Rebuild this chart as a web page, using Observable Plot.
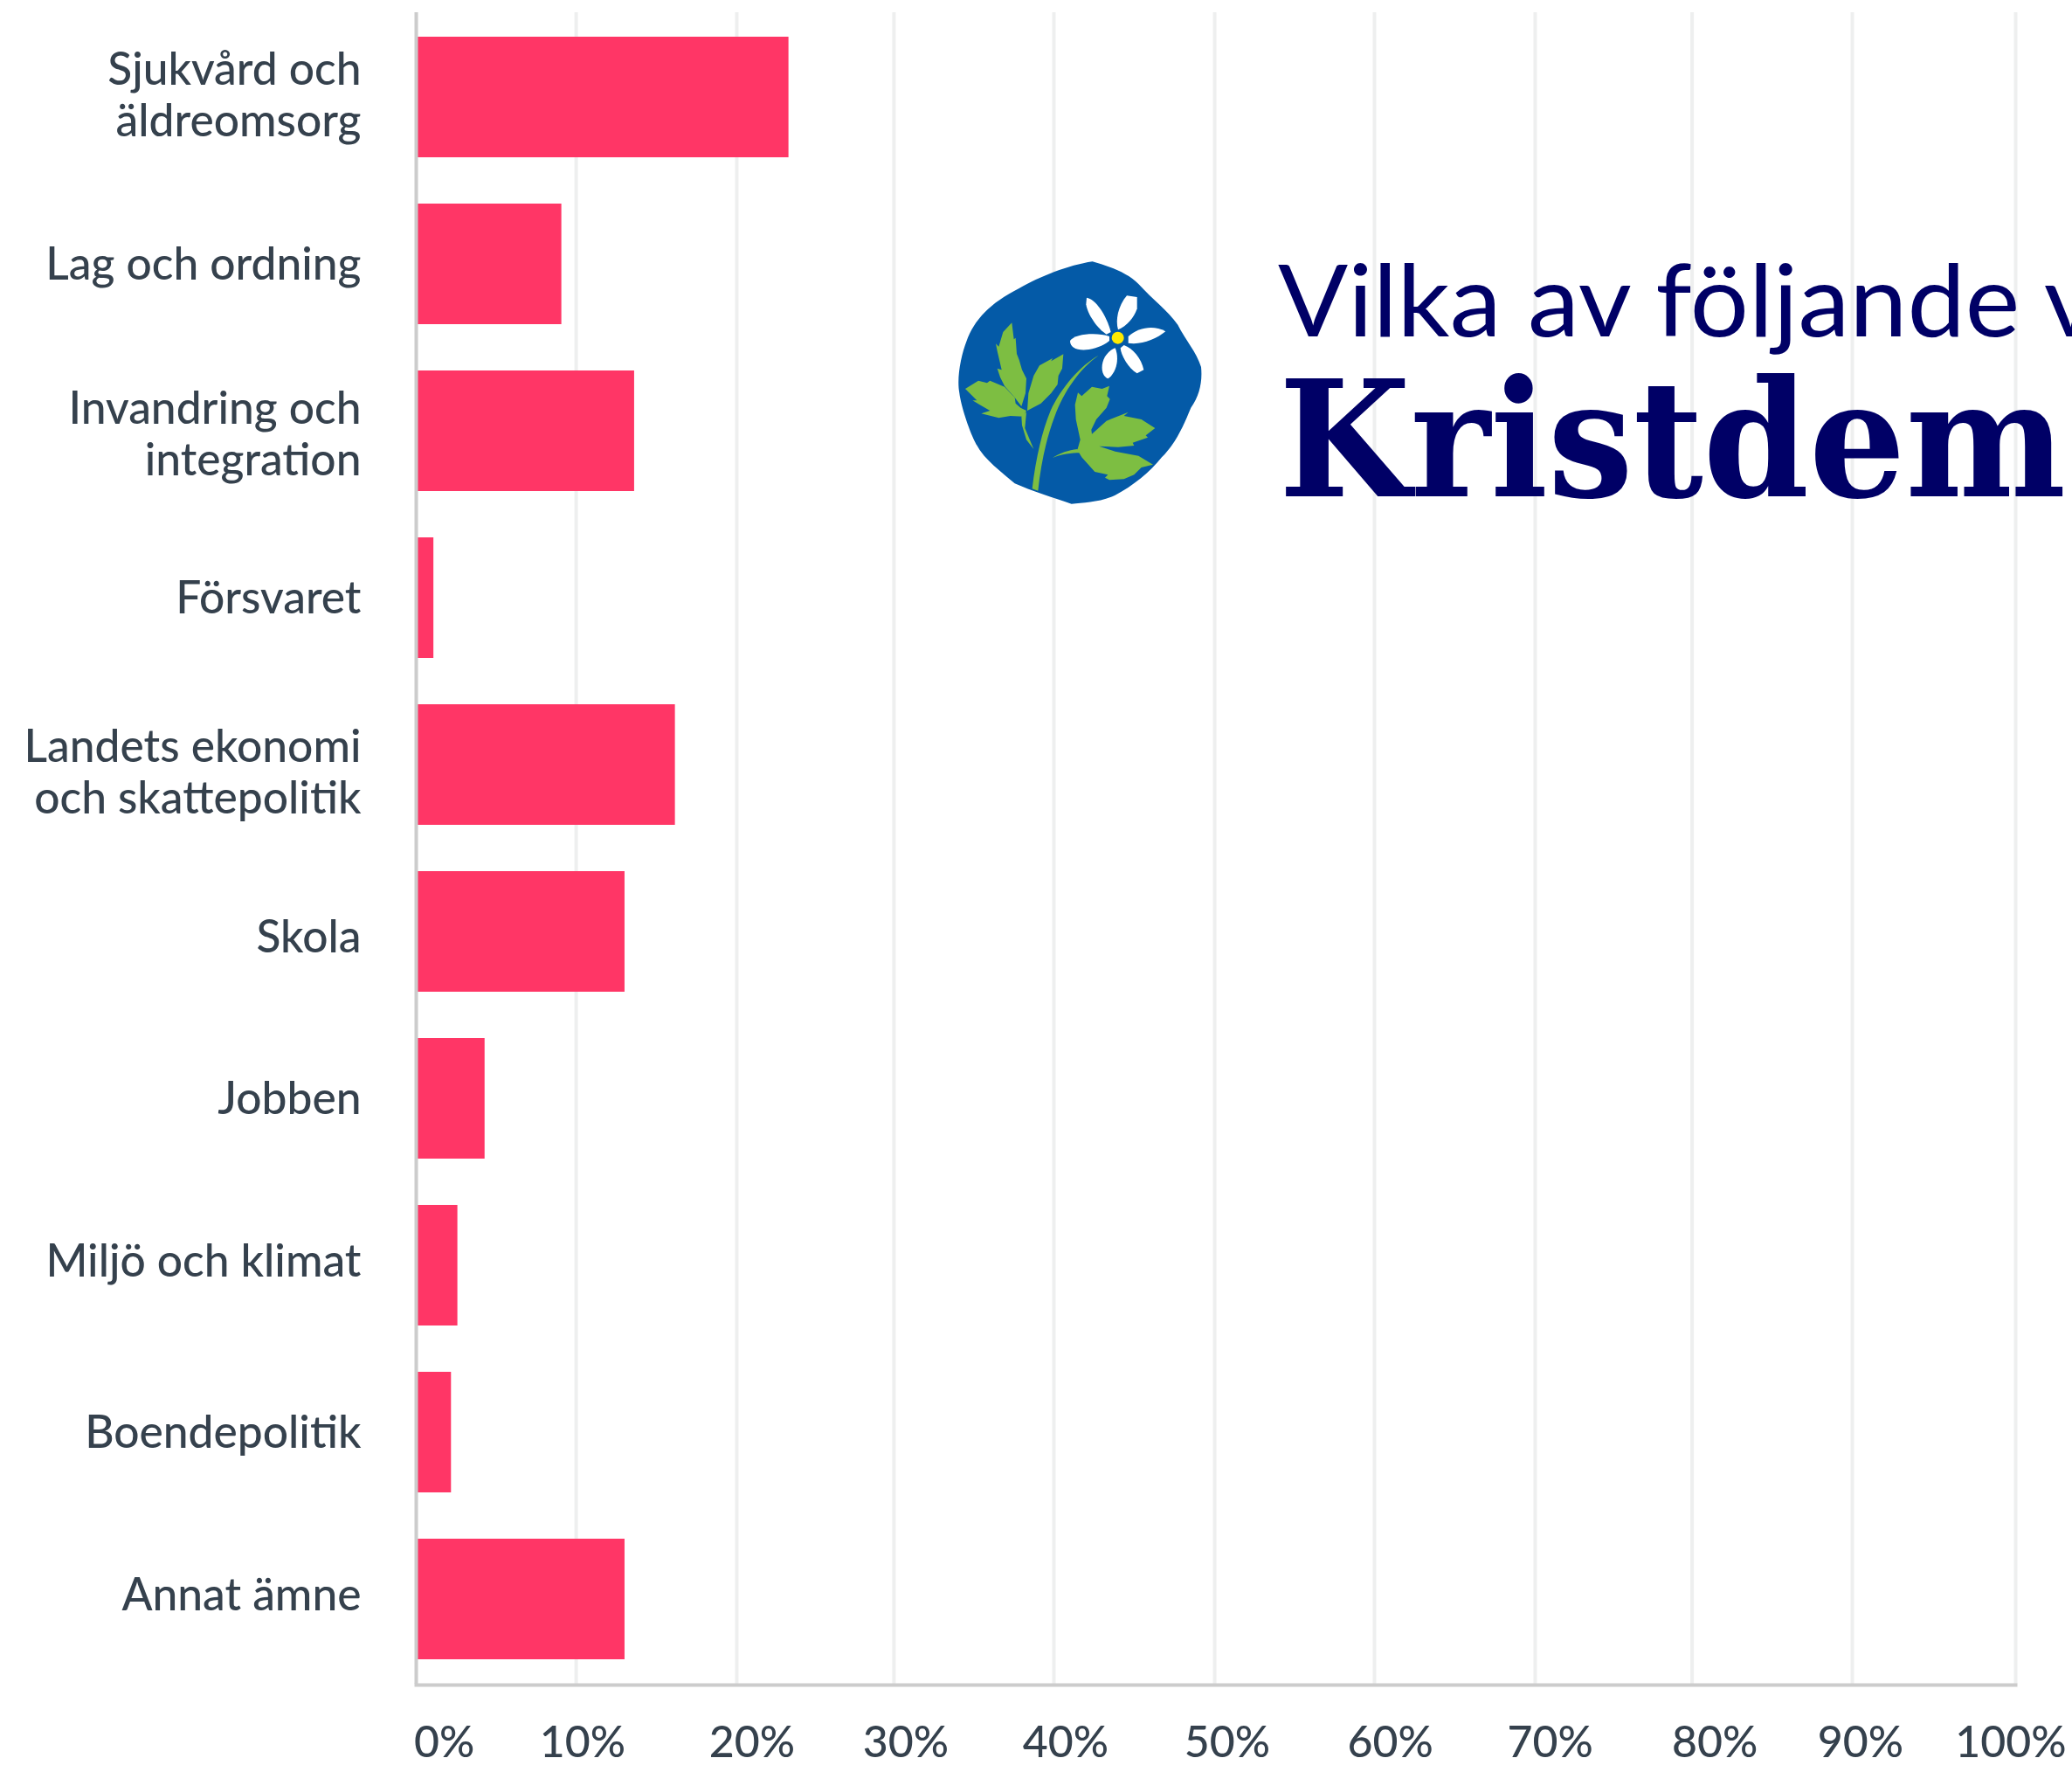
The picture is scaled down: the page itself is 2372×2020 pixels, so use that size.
<!DOCTYPE html>
<html><head><meta charset="utf-8">
<script src="https://cdn.jsdelivr.net/npm/d3@7"></script>
<script src="https://cdn.jsdelivr.net/npm/@observablehq/plot@0.6"></script>
<style>
html,body{margin:0;padding:0;background:#fff;overflow:hidden;width:2372px;height:2020px}
#wrap{position:relative;width:2372px;height:2020px;overflow:hidden}
#wrap>svg{position:absolute;left:0;top:0;display:block}
</style></head><body><div id="wrap"></div>
<script>
const categories = ["Sjukvård och\näldreomsorg","Lag och ordning","Invandring och\nintegration","Försvaret","Landets ekonomi\noch skattepolitik","Skola","Jobben","Miljö och klimat","Boendepolitik","Annat ämne"];
const shares = [23.3,9.1,13.65,1.1,16.2,13.05,4.3,2.6,2.2,13.05];
const gridAt = [10,20.04,29.87,39.87,49.92,59.91,69.96,79.77,89.79,100];
const tickLabels = ["0%","10%","20%","30%","40%","50%","60%","70%","80%","90%","100%"];
const tickLabelAt = [1.75,10.4,21,30.6,40.6,50.7,60.9,70.9,81.2,90.3,99.7];
const labelNudge = [-4,-1.5,2,-1.5,7,4.5,-1.5,-6,-1.5,-6];
const titleLine1 = "Vilka av följande v";
const titleLine2 = "Kristdem";
const rows = categories.map((c,i)=>({category:c,share:shares[i]}));
const ticks = tickLabels.map((t,i)=>({label:t,at:tickLabelAt[i]}));
const font = "Lato, sans-serif";
const ink = "#35414d";

const chart = Plot.plot({
  width:2372, height:2020, marginLeft:476, marginRight:65, marginTop:14, marginBottom:93,
  style:{background:"transparent",fontFamily:font,overflow:"visible"},
  x:{domain:[0,100],axis:null},
  y:{domain:categories,paddingInner:0.277,paddingOuter:0.1385,axis:null,label:null},
  marks:[
    Plot.ruleX(gridAt,{stroke:"#eeefef",strokeWidth:4}),
    Plot.barX(rows,{x:"share",y:"category",fill:"#ff3666"}),
    Plot.ruleX([0],{stroke:"#cccccc",strokeWidth:4}),
    Plot.frame({anchor:"bottom",stroke:"#cccccc",strokeWidth:4,dy:1}),
    ...categories.map((c,i)=>Plot.text([c],{y:d=>d,text:d=>d,frameAnchor:"left",textAnchor:"end",dx:-63,dy:labelNudge[i],fontSize:51.5,fontWeight:500,fill:ink,lineHeight:1.14})),
    Plot.text(ticks,{x:"at",text:"label",frameAnchor:"bottom",lineAnchor:"bottom",dy:83,fontSize:50,fontWeight:500,fill:ink})
  ]
});
document.getElementById("wrap").appendChild(chart);

const overlay = `<svg xmlns="http://www.w3.org/2000/svg" width="2372" height="2020" viewBox="0 0 2372 2020" style="pointer-events:none">
<g transform="translate(1090 290) scale(0.33333)">
<path fill="#045aa7" d="M482 28C540 45 600 65 640 105C690 160 740 195 775 245C800 295 840 340 855 390C860 440 850 490 820 530C795 590 770 650 720 700C680 750 620 800 560 830C510 855 450 855 410 860C350 840 270 815 215 790C170 750 110 710 80 650C55 600 30 520 25 480C15 430 30 350 50 300C75 230 130 170 230 120C300 80 400 40 482 28Z"/>
<g fill="#7dbe42">
<path d="M205 238L212 295L218 290L222 345L230 365L240 400L255 430L252 480L238 525L215 495L180 455L165 425L155 395L170 400L155 335L150 310L160 320L175 270Z"/>
<path d="M382 346L378 395L365 420L362 450L340 480L305 515L258 540L262 480L280 420L300 385L345 360L340 370Z"/>
<path d="M45 465L90 437L120 445L130 437L180 458L215 495L218 515L235 530L255 540L245 560L200 558L160 565L100 550L130 540L95 520L70 505L85 505Z"/>
<path d="M238 560L255 545L250 600L280 672L255 640L240 590Z"/>
<path d="M503 350C440 395 385 470 352 560C325 630 305 720 295 815L275 808C285 720 305 620 338 540C375 460 440 385 503 350Z"/>
<path d="M432 478L445 490L480 458L515 465L540 455L532 490L542 500L530 530L495 570L478 605L480 620L530 575L605 545L590 558L650 570L697 600L665 625L672 632L620 650L625 660L570 665L505 662L560 680L640 695L690 725L650 735L625 760L590 775L540 778L525 770L535 760L490 750L445 700L430 675L440 640L425 570L422 520Z"/>
<path d="M430 672L440 685C410 685 375 690 345 702C370 685 400 676 430 672Z"/>
</g>
<g fill="#ffffff">
<path d="M462 152C490 155 530 210 545 270L530 278C500 260 465 210 460 175Z"/>
<path d="M600 145L635 150L635 190C625 220 600 250 570 262C560 230 570 180 600 145Z"/>
<path d="M605 285C640 255 690 245 733 268C700 295 650 315 605 308Z"/>
<path d="M590 315C620 325 650 360 658 400L635 412C605 395 580 350 578 325Z"/>
<path d="M560 325C575 360 565 410 535 430C510 420 510 380 525 355C535 340 545 330 560 325Z"/>
<path d="M540 285C500 270 420 275 405 300C405 325 430 335 470 330C500 325 530 310 540 300Z"/>
</g>
<circle cx="569" cy="290" r="21" fill="#ffeb00"/>
</g>
<text x="1463" y="385" font-family="Lato, sans-serif" font-weight="400" font-size="114" fill="#000066" textLength="938" lengthAdjust="spacingAndGlyphs">${titleLine1}</text>
<text x="1464" y="568" font-family="'DejaVu Serif', serif" font-weight="700" font-size="186" fill="#000066" textLength="901" lengthAdjust="spacingAndGlyphs">${titleLine2}</text>
</svg>`;
document.getElementById("wrap").insertAdjacentHTML("beforeend",overlay);
</script></body></html>
